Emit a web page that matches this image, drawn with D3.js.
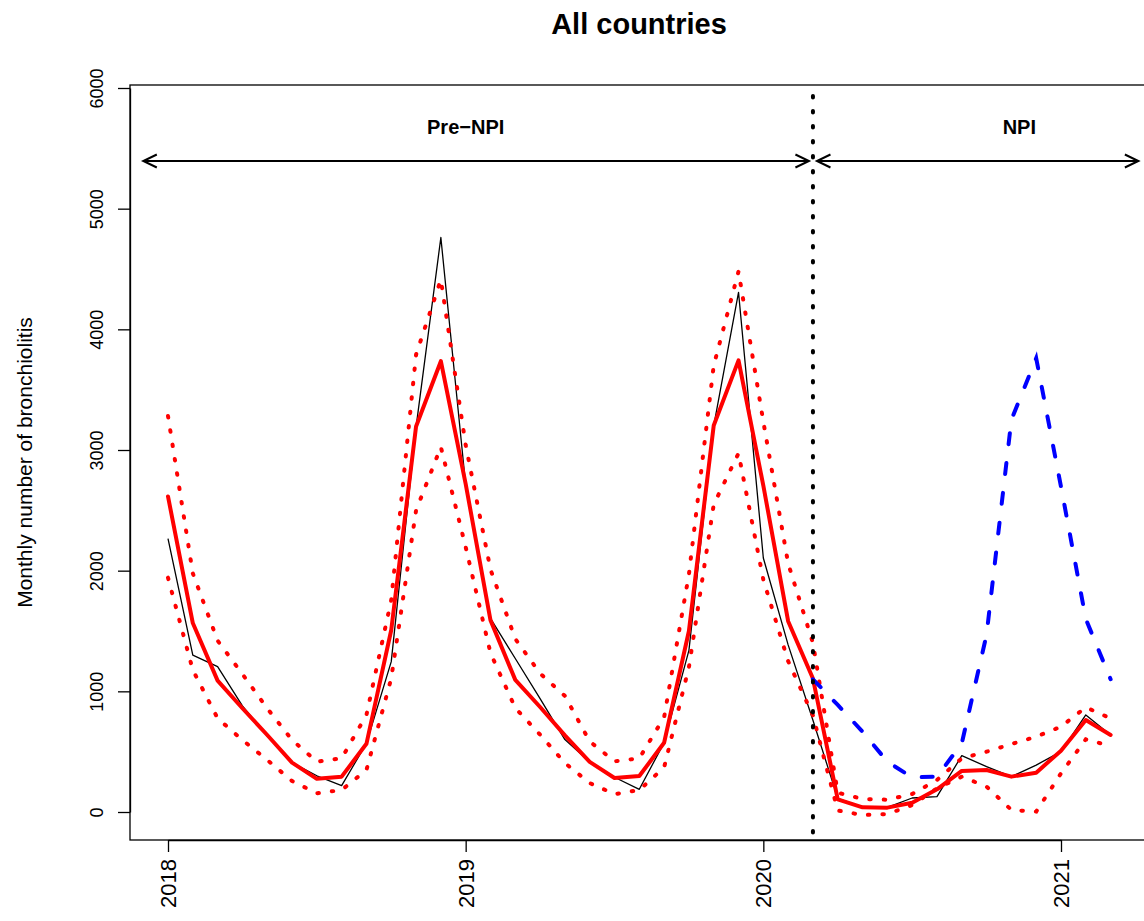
<!DOCTYPE html>
<html><head><meta charset="utf-8">
<script src="https://cdn.jsdelivr.net/npm/d3@7"></script>
<style>
body{margin:0;background:#fff}
svg{display:block}
text{font-family:"Liberation Sans",Arial,Helvetica,sans-serif;fill:#000}
</style>
</head><body>
<svg id="chart" width="1144" height="921"></svg>
<script>
// ---------- data ----------
const months = ["2018-01","2018-02","2018-03","2018-04","2018-05","2018-06","2018-07","2018-08","2018-09","2018-10","2018-11","2018-12",
  "2019-01","2019-02","2019-03","2019-04","2019-05","2019-06","2019-07","2019-08","2019-09","2019-10","2019-11","2019-12",
  "2020-01","2020-02","2020-03","2020-04","2020-05","2020-06","2020-07","2020-08","2020-09","2020-10","2020-11","2020-12",
  "2021-01","2021-02","2021-03"];
const observed = [2266,1300,1205,880,630,409,300,218,569,1246,3190,4761,
  2710,1604,1272,940,600,415,288,188,575,1340,3200,4307,
  2105,1385,760,113,40,38,116,127,467,376,293,389,500,804,638];
const fitted = [2615,1566,1089,860,638,409,275,293,565,1508,3195,3736,
  2720,1590,1095,870,635,415,282,298,574,1500,3203,3743,
  2705,1581,1106,105,39,36,77,188,340,348,293,326,508,762,638];
const upperBound = [3282,1978,1420,1143,859,597,417,445,804,1757,3790,4412,
  3042,2011,1435,1148,962,585,420,445,785,1970,3700,4480,
  3235,2060,1400,160,108,102,149,265,445,500,563,624,707,868,776];
const lowerBound = [1942,1177,776,597,431,257,155,182,348,1108,2500,3025,
  2196,1318,862,641,406,240,148,182,370,1200,2548,2973,
  1925,1250,800,12,-25,-17,58,196,293,210,17,3,320,602,547];
const expectedMonths = ["2020-03","2020-04","2020-05","2020-06","2020-07","2020-08","2020-09","2020-10","2020-11","2020-12","2021-01","2021-02","2021-03"];
const expected = [1100,887,666,417,287,293,569,1470,3250,3760,2696,1600,1100];
const yTicks = [0,1000,2000,3000,4000,5000,6000];
const xTicks = [2018,2019,2020,2021];
const npiStart = "2020-03";
const periodLabels = ["Pre\u2212NPI","NPI"];
const periodLabelAt = [2019.0, 2020.86];
const title = "All countries";
const yTitle = "Monthly number of bronchiolitis";

// ---------- helpers ----------
const toYear = s => { const [yy, mm] = s.split("-").map(Number); return yy + (mm - 1) / 12; };

const svg = d3.select("#chart");
const plot = {left:130, right:1148, top:85, bottom:840};

const x = d3.scaleLinear().domain([2018, 2021]).range([168, 1061]);
const y = d3.scaleLinear().domain([0, 6000]).range([812, 88]);

svg.append("defs").append("clipPath").attr("id","clip")
  .append("rect").attr("x",plot.left).attr("y",plot.top)
  .attr("width",plot.right-plot.left).attr("height",plot.bottom-plot.top);

const g = svg.append("g").attr("clip-path","url(#clip)");

const line = d3.line().x(d => x(d.t)).y(d => y(d.v));
const mk = (ms, vs) => ms.map((m,i) => ({t: toYear(m), v: vs[i]}));

// observed
g.append("path").datum(mk(months, observed)).attr("d", line)
  .attr("fill","none").attr("stroke","#000").attr("stroke-width",1.3).attr("stroke-linejoin","round");
// fitted
g.append("path").datum(mk(months, fitted)).attr("d", line)
  .attr("fill","none").attr("stroke","#ff0000").attr("stroke-width",4).attr("stroke-linejoin","round").attr("stroke-linecap","round");
// bounds
[upperBound, lowerBound].forEach(b => {
  g.append("path").datum(mk(months, b)).attr("d", line)
    .attr("fill","none").attr("stroke","#ff0000").attr("stroke-width",4)
    .attr("stroke-dasharray","1.5 13").attr("stroke-linecap","round");
});
// expected (counterfactual)
g.append("path").datum(mk(expectedMonths, expected)).attr("d", line)
  .attr("fill","none").attr("stroke","#0000ff").attr("stroke-width",4)
  .attr("stroke-dasharray","11 19").attr("stroke-linecap","round");

// vertical NPI line
const xn = x(toYear(npiStart));
g.append("line").attr("x1",xn).attr("x2",xn).attr("y1",96).attr("y2",plot.bottom)
  .attr("stroke","#000").attr("stroke-width",4).attr("stroke-dasharray","1.5 13.5").attr("stroke-linecap","round");

// arrows
const arrowY = 161;
function arrow(x1, x2){
  const a = svg.append("g").attr("stroke","#000").attr("stroke-width",2).attr("fill","none");
  a.append("line").attr("x1",x1).attr("x2",x2).attr("y1",arrowY).attr("y2",arrowY);
  const hl = 15, ang = Math.PI/7;
  [[x1,1],[x2,-1]].forEach(([px,dir]) => {
    a.append("path").attr("d",
      `M${px + dir*hl*Math.cos(ang)},${arrowY - hl*Math.sin(ang)} L${px},${arrowY} L${px + dir*hl*Math.cos(ang)},${arrowY + hl*Math.sin(ang)}`);
  });
}
arrow(x(2017.917), xn - 4);
arrow(xn + 4, x(2021.26));

periodLabels.forEach((lab, i) => {
  svg.append("text").attr("x", x(periodLabelAt[i])).attr("y", 134)
    .attr("text-anchor","middle").attr("font-weight","bold").attr("font-size",20).text(lab);
});

// box
svg.append("rect").attr("x",plot.left).attr("y",plot.top)
  .attr("width",plot.right-plot.left).attr("height",plot.bottom-plot.top)
  .attr("fill","none").attr("stroke","#000").attr("stroke-width",1.3);

// y axis
const ya = svg.append("g").attr("transform",`translate(${plot.left},0)`)
  .call(d3.axisLeft(y).tickValues(yTicks).tickSize(12).tickSizeOuter(0).tickFormat(d3.format("d")));
ya.selectAll("path.domain").attr("stroke-width",1.3);
ya.selectAll(".tick line").attr("stroke-width",1.3);
ya.selectAll(".tick text").attr("x",null).attr("dy",null)
  .attr("transform","translate(-33,0) rotate(-90)")
  .attr("text-anchor","middle").attr("dominant-baseline","central")
  .attr("font-size",18).attr("fill","#000");

// x axis
const xa = svg.append("g").attr("transform",`translate(0,${plot.bottom})`)
  .call(d3.axisBottom(x).tickValues(xTicks).tickSize(12).tickSizeOuter(0).tickFormat(d3.format("d")));
xa.selectAll("path.domain").attr("stroke-width",1.3);
xa.selectAll(".tick line").attr("stroke-width",1.3);
xa.selectAll(".tick text").attr("y",null).attr("dy",null)
  .attr("transform","translate(0,19) rotate(-90)")
  .attr("text-anchor","end").attr("dominant-baseline","central")
  .attr("font-size",22).attr("fill","#000");

// titles
svg.append("text").attr("x",(plot.left+plot.right)/2).attr("y",34)
  .attr("text-anchor","middle").attr("font-weight","bold").attr("font-size",29).text(title);
svg.append("text").attr("transform",`translate(24,${(plot.top+plot.bottom)/2}) rotate(-90)`)
  .attr("text-anchor","middle").attr("dominant-baseline","central").attr("font-size",21).text(yTitle);
</script>
</body></html>
